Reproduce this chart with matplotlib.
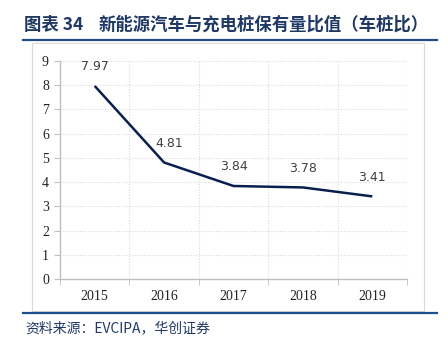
import matplotlib
matplotlib.use("Agg")
import matplotlib.pyplot as plt
from matplotlib.patches import Rectangle
from matplotlib.lines import Line2D
import numpy as np

years = ["2015", "2016", "2017", "2018", "2019"]
ratios = [7.97, 4.81, 3.84, 3.78, 3.41]
yticks = list(range(0, 10))

title_no = "图表 34"
title = "新能源汽车与充电桩保有量比值（车桩比）"
source = "资料来源：EVCIPA，华创证券"

cjk = ["Noto Sans CJK SC", "DejaVu Sans"]
serif = ["Liberation Serif", "DejaVu Serif"]

fig = plt.figure(figsize=(4.48, 3.45), dpi=100)
W, H = 448, 345

def fx(px):
    return px / W

def fy(py):
    return 1 - py / H

# title
fig.text(fx(24), fy(25), title_no, family=cjk, fontsize=12.5, fontweight="bold",
         color="#1F3864", va="center", ha="left")
fig.text(fx(99), fy(25), title, family=cjk, fontsize=12.5, fontweight="bold",
         color="#1F3864", va="center", ha="left")
fig.add_artist(Line2D([fx(23), fx(437)], [fy(40), fy(40)], color="#1F4E8C", lw=1.6))
fig.add_artist(Line2D([fx(23), fx(437)], [fy(313), fy(313)], color="#1F4E8C", lw=1.6))
fig.text(fx(25), fy(328), source, family=cjk, fontsize=10, style="italic",
         color="#1F3864", va="center", ha="left")

# chart box
fig.add_artist(Rectangle((fx(32), fy(311)), fx(424) - fx(32), fy(43) - fy(311),
                         transform=fig.transFigure, fill=False, edgecolor="#D9D9D9", lw=0.8))

ax = fig.add_axes([fx(60), fy(279), fx(407) - fx(60), fy(61) - fy(279)])
x = np.arange(len(years))
ax.plot(x, ratios, color="#0A1F4E", lw=1.8, solid_capstyle="butt")
for xi, v in zip(x, ratios):
    dx = 4 if xi == 1 else 0
    ax.annotate(f"{v:.2f}", (xi, v), xytext=(dx, 9), textcoords="offset points",
                ha="center", va="bottom", fontsize=9, color="#404040", family="DejaVu Sans")

ax.set_xlim(-0.5, len(years) - 0.5)
ax.set_ylim(0, 9)
ax.set_yticks(yticks)
ax.set_yticklabels([str(t) for t in yticks], family=serif, fontsize=10, color="#222222")
ax.set_xticks(x)
ax.set_xticklabels(years, family=serif, fontsize=10, color="#222222")
ax.set_xticks(np.arange(-0.5, len(years), 1.0), minor=True)
ax.tick_params(axis="x", which="major", length=0, pad=8)
ax.tick_params(axis="x", which="minor", length=4, color="#BFBFBF", direction="out")
ax.tick_params(axis="y", length=4, color="#BFBFBF", direction="out", pad=4)

for s in ["top", "right"]:
    ax.spines[s].set_visible(False)
for s in ["left", "bottom"]:
    ax.spines[s].set_color("#BFBFBF")
    ax.spines[s].set_linewidth(1.0)

ax.grid(False)
for yv in yticks[1:]:
    ax.axhline(yv, color="#D9D9D9", lw=0.8, ls=(0, (1, 1.5)), zorder=0)
for xv in np.arange(0.5, len(years), 1.0):
    ax.axvline(xv, color="#D9D9D9", lw=0.8, ls=(0, (1, 1.5)), zorder=0)

fig.savefig("out.png", dpi=100)
